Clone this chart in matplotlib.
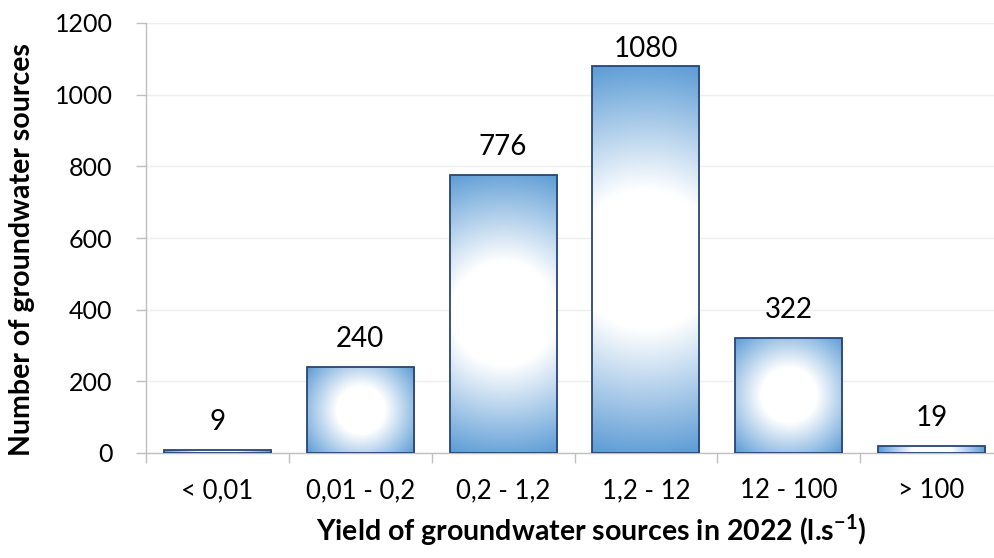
import numpy as np
import matplotlib
matplotlib.use('Agg')
import matplotlib.pyplot as plt
from matplotlib.colors import to_rgb

# Dados
categorias = ['< 0,01', '0,01 - 0,2', '0,2 - 1,2', '1,2 - 12', '12 - 100', '> 100']
valores = [9, 240, 776, 1080, 322, 19]
yticks = [0, 200, 400, 600, 800, 1000, 1200]

plt.rcParams['font.family'] = ['Lato', 'DejaVu Sans']
plt.rcParams['mathtext.fontset'] = 'custom'
plt.rcParams['mathtext.rm'] = 'Lato'
plt.rcParams['mathtext.bf'] = 'Lato:bold'

W, H, DPI = 994, 558, 100
fig = plt.figure(figsize=(W / DPI, H / DPI), dpi=DPI)
# posicao do eixo em pixels
x0, x1, y0, y1 = 146, 1003, 453, 23
ax = fig.add_axes([x0 / W, (H - y0) / H, (x1 - x0) / W, (y0 - y1) / H])

n = len(categorias)
x = np.arange(n)
largura = 0.75
ax.set_xlim(-0.5, n - 0.5)
ax.set_ylim(0, 1200)

azul = np.array(to_rgb('#5b9bd5'))
branco = np.array([1.0, 1.0, 1.0])
px_cat = (x1 - x0) / n
px_val = (y0 - y1) / 1200

barras = ax.bar(x, valores, width=largura, color='none', edgecolor='#2a4574',
                linewidth=1.3, zorder=3)

# gradiente radial (branco no centro, azul nas bordas)
for b, v in zip(barras, valores):
    wpx = largura * px_cat
    hpx = max(v * px_val, 1)
    nx, ny = int(wpx) + 1, int(hpx) + 1
    xs = np.linspace(-wpx / 2, wpx / 2, nx)
    ys = np.linspace(-hpx / 2, hpx / 2, ny)
    X, Y = np.meshgrid(xs, ys)
    R = np.hypot(wpx / 2, hpx / 2)
    t = np.clip((np.hypot(X, Y) / R - 0.35) / 0.65, 0, 1)
    img = branco[None, None, :] * (1 - t[..., None]) + azul[None, None, :] * t[..., None]
    bx = b.get_x()
    im = ax.imshow(img, extent=[bx, bx + largura, 0, v], aspect='auto',
                   origin='lower', zorder=2, interpolation='bilinear')
    im.set_clip_path(b)

ax.set_xlim(-0.5, n - 0.5)
ax.set_ylim(0, 1200)

# rotulos de valores (mantidos dentro da area do grafico, como no Excel)
for xi, v in zip(x, valores):
    topo_px = y0 - v * px_val
    base_px = max(topo_px - 20, y1 + 34)
    off_pt = (topo_px - base_px) * 72 / DPI
    ax.annotate(str(v), (xi, v), xytext=(0, off_pt), textcoords='offset points',
                ha='center', va='baseline', fontsize=20, color='#000000', zorder=4)

# eixos
ax.set_yticks(yticks)
ax.tick_params(axis='y', labelsize=18, length=7, color='#bfbfbf', width=1, pad=17)
ax.set_xticks(np.arange(n + 1) - 0.5)
ax.set_xticklabels([])
ax.set_xticks(x, minor=True)
ax.set_xticklabels(categorias, minor=True)
ax.tick_params(axis='x', which='major', length=7, color='#bfbfbf', width=1)
ax.tick_params(axis='x', which='minor', length=0, labelsize=18.5, pad=18)
ax.grid(axis='y', color='#eeeeee', linewidth=1, zorder=0)
ax.set_axisbelow(True)
for s in ['top', 'right']:
    ax.spines[s].set_visible(False)
for s in ['left', 'bottom']:
    ax.spines[s].set_color('#bfbfbf')
    ax.spines[s].set_linewidth(1)

fig.text(22 / W, 1 - 250 / H, 'Number of groundwater sources', rotation=90,
         ha='center', va='center', fontsize=20.5, fontweight='bold')
fig.text(591 / W, 1 - 530 / H, r'Yield of groundwater sources in 2022 (l.s$^{\mathbf{-1}}$)',
         ha='center', va='center', fontsize=20.5, fontweight='bold')

fig.savefig('out.png', dpi=DPI)
